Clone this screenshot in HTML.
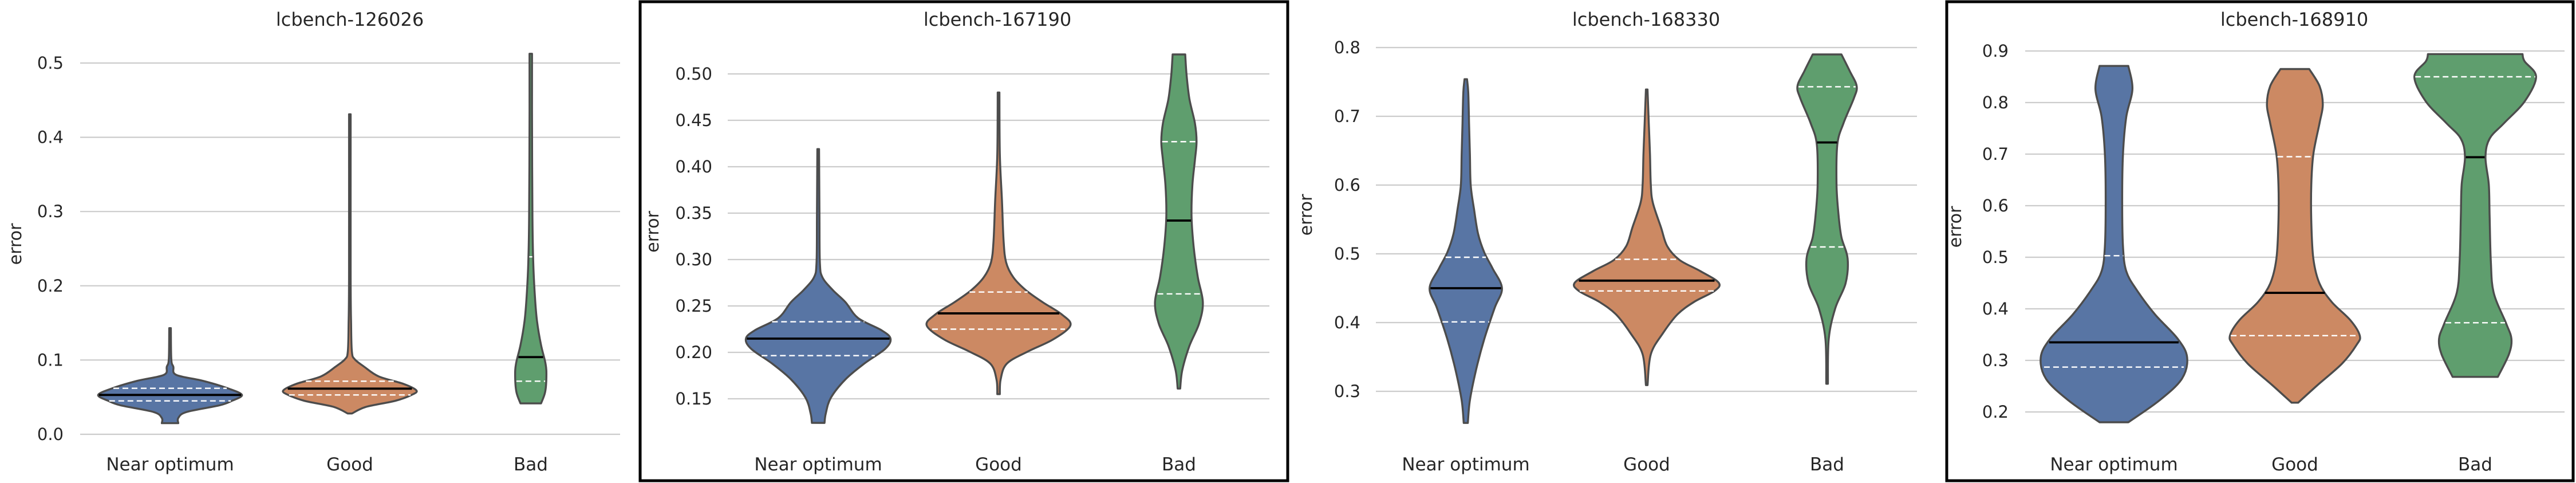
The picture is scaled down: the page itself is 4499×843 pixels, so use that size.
<!DOCTYPE html>
<html><head><meta charset="utf-8"><style>
html,body{margin:0;padding:0;background:#fff;}
svg{display:block;font-family:"DejaVu Sans","Liberation Sans",sans-serif;}
</style></head><body>
<svg id="chart" width="4499" height="843" viewBox="0 0 4499 843" xmlns="http://www.w3.org/2000/svg"></svg>
<script>
// ---- data ----
const categories = ["Near optimum","Good","Bad"];
const panelTitles = ["lcbench-126026","lcbench-167190","lcbench-168330","lcbench-168910"];
const tickLabels1 = ["0.0","0.1","0.2","0.3","0.4","0.5"];
const tickLabels2 = ["0.15","0.20","0.25","0.30","0.35","0.40","0.45","0.50"];
const tickLabels3 = ["0.3","0.4","0.5","0.6","0.7","0.8"];
const tickLabels4 = ["0.2","0.3","0.4","0.5","0.6","0.7","0.8","0.9"];
// violin profiles: [value, relative density]
const p1Near=[[0.015,0.20],[0.022,0.20],[0.030,0.40],[0.039,1.20],[0.045,1.50],[0.053,1.75],[0.062,1.40],[0.072,0.80],[0.080,0.15],[0.091,0.08],[0.101,0.03],[0.143,0.02]];
const p1Good=[[0.028,0.05],[0.037,0.40],[0.045,1.10],[0.053,1.50],[0.059,1.62],[0.068,1.30],[0.078,0.70],[0.091,0.35],[0.101,0.12],[0.111,0.05],[0.149,0.03],[0.211,0.02],[0.431,0.02]];
const p1Bad=[[0.0416,0.25],[0.057,0.35],[0.078,0.38],[0.095,0.36],[0.12,0.25],[0.153,0.15],[0.186,0.10],[0.232,0.06],[0.294,0.04],[0.419,0.03],[0.5125,0.03]];
const p2Near=[[0.124,0.15],[0.134,0.18],[0.151,0.30],[0.171,0.65],[0.188,1.10],[0.204,1.60],[0.215,1.72],[0.224,1.50],[0.237,0.95],[0.254,0.65],[0.267,0.35],[0.281,0.10],[0.297,0.04],[0.347,0.03],[0.419,0.02]];
const p2Good=[[0.155,0.03],[0.171,0.05],[0.188,0.20],[0.201,0.70],[0.214,1.30],[0.229,1.71],[0.241,1.50],[0.254,1.05],[0.267,0.65],[0.281,0.35],[0.297,0.18],[0.320,0.12],[0.364,0.08],[0.414,0.03],[0.480,0.02]];
const p2Bad=[[0.161,0.03],[0.181,0.08],[0.207,0.25],[0.231,0.48],[0.254,0.57],[0.281,0.45],[0.314,0.35],[0.347,0.30],[0.380,0.32],[0.407,0.38],[0.427,0.42],[0.447,0.38],[0.473,0.25],[0.500,0.18],[0.521,0.15]];
const p3Near=[[0.254,0.05],[0.287,0.10],[0.331,0.25],[0.376,0.45],[0.421,0.70],[0.450,0.88],[0.479,0.65],[0.502,0.45],[0.529,0.30],[0.565,0.20],[0.600,0.12],[0.645,0.10],[0.690,0.08],[0.735,0.06],[0.754,0.03]];
const p3Good=[[0.309,0.02],[0.354,0.10],[0.385,0.40],[0.412,0.75],[0.430,1.15],[0.446,1.65],[0.458,1.75],[0.475,1.30],[0.491,0.80],[0.511,0.50],[0.538,0.35],[0.574,0.15],[0.600,0.10],[0.645,0.08],[0.690,0.05],[0.739,0.02]];
const p3Bad=[[0.311,0.02],[0.376,0.04],[0.421,0.20],[0.457,0.45],[0.493,0.50],[0.524,0.35],[0.556,0.28],[0.600,0.23],[0.659,0.25],[0.690,0.40],[0.726,0.65],[0.744,0.72],[0.766,0.55],[0.790,0.35]];
const p4Near=[[0.180,0.35],[0.222,1.10],[0.264,1.65],[0.306,1.78],[0.342,1.55],[0.389,1.00],[0.437,0.55],[0.473,0.30],[0.521,0.22],[0.611,0.20],[0.700,0.22],[0.772,0.30],[0.826,0.45],[0.871,0.35]];
const p4Good=[[0.218,0.08],[0.252,0.55],[0.294,1.15],[0.330,1.50],[0.348,1.58],[0.378,1.35],[0.413,0.90],[0.449,0.60],[0.497,0.45],[0.569,0.40],[0.641,0.40],[0.700,0.45],[0.760,0.60],[0.796,0.68],[0.832,0.60],[0.865,0.35]];
const p4Bad=[[0.268,0.55],[0.312,0.82],[0.342,0.88],[0.372,0.75],[0.431,0.45],[0.491,0.38],[0.581,0.35],[0.641,0.33],[0.694,0.25],[0.730,0.35],[0.760,0.70],[0.802,1.20],[0.850,1.48],[0.880,1.20],[0.894,1.15]];
// quartiles [q1, median, q3]
const q1Near=[0.045,0.053,0.062], q1Good=[0.053,0.0615,0.0715], q1Bad=[0.0715,0.104,0.239];
const q2Near=[0.1965,0.2148,0.233], q2Good=[0.225,0.242,0.265], q2Bad=[0.263,0.342,0.427];
const q3Near=[0.401,0.450,0.495], q3Good=[0.446,0.461,0.492], q3Bad=[0.510,0.662,0.743];
const q4Near=[0.287,0.335,0.503], q4Good=[0.348,0.431,0.695], q4Bad=[0.373,0.694,0.850];

// ---- layout ----
const colors=["#5875a4","#cc8963","#5f9e6e"];
const panels=[
 {title:panelTitles[0],ticks:tickLabels1,min:0.0,max:0.5,y0:758,y1:110,gx0:140,gx1:1083,cx:[297,611,927],tx:611,lx:111,ex:37,wu:71.8,violins:[p1Near,p1Good,p1Bad],q:[q1Near,q1Good,q1Bad],frame:null},
 {title:panelTitles[1],ticks:tickLabels2,min:0.15,max:0.50,y0:696,y1:129,gx0:1271,gx1:2217,cx:[1429,1744,2059],tx:1742,lx:1244,ex:1150,wu:73.4,violins:[p2Near,p2Good,p2Bad],q:[q2Near,q2Good,q2Bad],frame:[1118,3,1131,836]},
 {title:panelTitles[2],ticks:tickLabels3,min:0.3,max:0.8,y0:683,y1:83,gx0:2403,gx1:3348,cx:[2560,2876,3191],tx:2875,lx:2376,ex:2291,wu:71.8,violins:[p3Near,p3Good,p3Bad],q:[q3Near,q3Good,q3Bad],frame:null},
 {title:panelTitles[3],ticks:tickLabels4,min:0.2,max:0.9,y0:719,y1:89,gx0:3537,gx1:4479,cx:[3692,4008,4323],tx:4007,lx:3508,ex:3425,wu:71.8,violins:[p4Near,p4Good,p4Bad],q:[q4Near,q4Good,q4Bad],frame:[3400,3,1094,836]}
];
const NS="http://www.w3.org/2000/svg";
const svg=document.getElementById('chart');
function mk(tag,attrs,parent){const e=document.createElementNS(NS,tag);for(const k in attrs)e.setAttribute(k,attrs[k]);(parent||svg).appendChild(e);return e;}
function spline(pts){let d="M"+pts[0][0]+","+pts[0][1];for(let i=0;i<pts.length-1;i++){const p0=pts[Math.max(0,i-1)],p1=pts[i],p2=pts[i+1],p3=pts[Math.min(pts.length-1,i+2)];const c1=[p1[0]+(p2[0]-p0[0])/6,p1[1]+(p2[1]-p0[1])/6],c2=[p2[0]-(p3[0]-p1[0])/6,p2[1]-(p3[1]-p1[1])/6];d+=" C"+c1[0].toFixed(1)+","+c1[1].toFixed(1)+" "+c2[0].toFixed(1)+","+c2[1].toFixed(1)+" "+p2[0].toFixed(1)+","+p2[1].toFixed(1);}return d;}
function halfAt(prof,v){if(v<=prof[0][0])return prof[0][1];for(let i=0;i<prof.length-1;i++){if(v>=prof[i][0]&&v<=prof[i+1][0]){const t=(v-prof[i][0])/(prof[i+1][0]-prof[i][0]);return prof[i][1]+t*(prof[i+1][1]-prof[i][1]);}}return prof[prof.length-1][1];}

panels.forEach((P,pi)=>{
 const g=mk('g',{});
 
 
 const yS=v=>P.y0+(v-P.min)/(P.max-P.min)*(P.y1-P.y0);
 P.ticks.forEach(t=>{const v=parseFloat(t),y=yS(v);
  const l=mk('line',{x1:P.gx0,x2:P.gx1,y1:y,y2:y,stroke:'#cccccc','stroke-width':2.2},g);
  
  
  const tx=mk('text',{x:P.lx,y:y+10,'text-anchor':'end','font-size':29,fill:'#262626'},g);
  tx.textContent=t;
  
  
 });
 const ti=mk('text',{x:P.tx,y:45,'text-anchor':'middle','font-size':32,fill:'#262626'},g);
 ti.textContent=P.title;
 
 
 const ey=(P.y0+P.y1)/2-8;
 const el=mk('text',{x:P.ex,y:ey,'text-anchor':'middle','font-size':30,fill:'#262626',transform:'rotate(-90 '+P.ex+' '+ey+')'},g);
 el.textContent='error';
 
 
 P.violins.forEach((prof,ci)=>{
  const cx=P.cx[ci];
  const right=prof.map(p=>[cx+p[1]*P.wu,yS(p[0])]);
  const left=prof.slice().reverse().map(p=>[cx-p[1]*P.wu,yS(p[0])]);
  let d=spline(right);
  d+=" L"+left[0][0].toFixed(1)+","+left[0][1].toFixed(1)+" "+spline(left).slice(1).replace(/^[^C]*/,'');
  d+=" Z";
  const path=mk('path',{d:d,fill:colors[ci],stroke:'#4c4c4c','stroke-width':3.4,'stroke-linejoin':'round'},g);
  
  
  P.q[ci].forEach((qv,qi)=>{
   const hw=halfAt(prof,qv)*P.wu, y=yS(qv);
   const ln=mk('line',{x1:cx-hw+1.5,x2:cx+hw-1.5,y1:y,y2:y,stroke:qi==1?'#000':'#fff','stroke-width':qi==1?3.8:2.4,'stroke-dasharray':qi==1?'none':'10,6'},g);
   
   
  });
  const xl=mk('text',{x:cx,y:821,'text-anchor':'middle','font-size':31,fill:'#262626'},g);
  xl.textContent=categories[ci];
  
  
 });
 if(P.frame){
  const r=mk('rect',{x:P.frame[0],y:P.frame[1],width:P.frame[2],height:P.frame[3],fill:'none',stroke:'#000','stroke-width':5},g);
  
  
 }
});
</script>
</body></html>
